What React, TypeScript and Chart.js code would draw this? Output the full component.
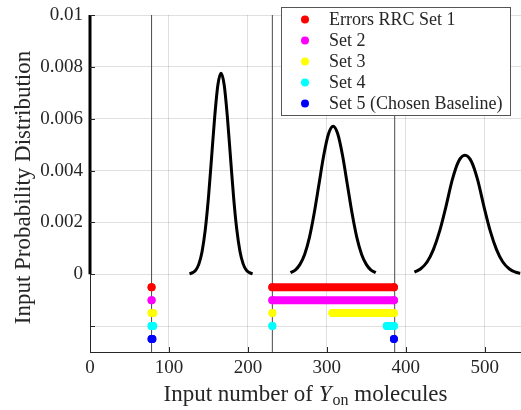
import React, { useEffect, useRef } from 'react';
import { Chart, registerables } from 'chart.js';

Chart.register(...registerables);

// ---- axes ----
const xMin = 0;
const xMax = 546;
const yMin = -0.003;
const yMax = 0.01;
const xTickValues = [0, 100, 200, 300, 400, 500];
const yTickValues = [-0.002, 0, 0.002, 0.004, 0.006, 0.008, 0.01];
const yTickLabels = ['', '0', '0.002', '0.004', '0.006', '0.008', '0.01'];

// ---- input distributions ----
const curve1X = [126, 130, 134, 138, 142, 146, 150, 154, 158, 162, 166, 170, 174, 178, 182, 186, 190, 194, 198, 202, 206];
const curve1Y = [0.00002, 0.00006, 0.00016, 0.0004, 0.00088, 0.00171, 0.00294, 0.0045, 0.00608, 0.0073, 0.00775, 0.0073, 0.00608, 0.0045, 0.00294, 0.00171, 0.00088, 0.0004, 0.00016, 0.00006, 0.00002];

const curve2X = [254, 260, 266, 272, 278, 284, 290, 296, 302, 308, 314, 320, 326, 332, 338, 344, 350, 356, 362];
const curve2Y = [0.00006, 0.00016, 0.00038, 0.00077, 0.00142, 0.00235, 0.00346, 0.00457, 0.0054, 0.00571, 0.0054, 0.00457, 0.00346, 0.00235, 0.00142, 0.00077, 0.00038, 0.00016, 0.00006];

const curve3X = [411, 419, 427, 435, 443, 451, 459, 467, 475, 483, 491, 499, 507, 515, 523, 531, 539, 545];
const curve3Y = [0.00008, 0.00021, 0.00047, 0.00095, 0.00167, 0.00262, 0.00365, 0.00436, 0.00459, 0.00436, 0.00365, 0.00262, 0.00167, 0.00095, 0.00047, 0.00021, 0.00008, 0.00004];

// left thick segment on x = 0
const axisSegmentX = [0, 0];
const axisSegmentY = [0, 0.01];

// ---- error sets ----
const seriesLabels = ['Errors RRC Set 1', 'Set 2', 'Set 3', 'Set 4', 'Set 5 (Chosen Baseline)'];
const seriesColors = ['#ff0000', '#ff00ff', '#ffff00', '#00ffff', '#0000ff'];
const seriesRowY = [-0.0005, -0.001, -0.0015, -0.002, -0.0025];
const set1Ranges = [[78, 78], [231, 385]];
const set2Ranges = [[78, 78], [231, 385]];
const set3Ranges = [[78, 80], [231, 231], [307, 385]];
const set4Ranges = [[78, 80], [231, 231], [376, 385]];
const set5Ranges = [[78, 79], [385, 385]];
const seriesRanges = [set1Ranges, set2Ranges, set3Ranges, set4Ranges, set5Ranges];

// vertical reference lines
const markerLineX = [78, 231, 386];

const FONT = "'Liberation Serif', 'Times New Roman', serif";
const TEXT = '#262626';

function rangesToPoints(ranges: number[][], y: number) {
  const pts: { x: number; y: number | null }[] = [];
  ranges.forEach(([a, b]) => {
    pts.push({ x: a, y });
    if (b !== a) pts.push({ x: b, y });
    pts.push({ x: b, y: null });
  });
  return pts;
}

function zip(xs: number[], ys: number[]) {
  return xs.map((x, i) => ({ x, y: ys[i] }));
}

const decorPlugin = {
  id: 'decor',
  afterDraw(chart: any) {
    const ctx = chart.ctx as CanvasRenderingContext2D;
    const { left, right, top, bottom } = chart.chartArea;
    const xs = chart.scales.x;
    const ys = chart.scales.y;
    ctx.save();
    // inward ticks
    ctx.strokeStyle = TEXT;
    ctx.lineWidth = 1;
    xTickValues.forEach((v) => {
      const px = Math.round(xs.getPixelForValue(v)) + 0.5;
      ctx.beginPath();
      ctx.moveTo(px, bottom);
      ctx.lineTo(px, bottom - 5);
      ctx.stroke();
    });
    yTickValues.forEach((v) => {
      const py = Math.round(ys.getPixelForValue(v)) + 0.5;
      ctx.beginPath();
      ctx.moveTo(left, py);
      ctx.lineTo(left + 5, py);
      ctx.stroke();
    });

    // y title
    ctx.fillStyle = TEXT;
    ctx.font = `23px ${FONT}`;
    ctx.textAlign = 'center';
    ctx.textBaseline = 'middle';
    ctx.save();
    ctx.translate(24, (top + bottom) / 2 + 4);
    ctx.rotate(-Math.PI / 2);
    ctx.fillText('Input Probability Distribution', 0, 0);
    ctx.restore();

    // x title with italic Y and subscript "on"
    const p1 = 'Input number of ';
    const p2 = 'Y';
    const p3 = 'on';
    const p4 = ' molecules';
    const fN = `23px ${FONT}`;
    const fI = `italic 23px ${FONT}`;
    const fS = `16px ${FONT}`;
    ctx.textAlign = 'left';
    ctx.textBaseline = 'alphabetic';
    ctx.font = fN; const w1 = ctx.measureText(p1).width; const w4 = ctx.measureText(p4).width;
    ctx.font = fI; const w2 = ctx.measureText(p2).width + 1;
    ctx.font = fS; const w3 = ctx.measureText(p3).width;
    const total = w1 + w2 + w3 + w4;
    let x0 = (left + right) / 2 - total / 2;
    const base = 401;
    ctx.font = fN; ctx.fillText(p1, x0, base); x0 += w1;
    ctx.font = fI; ctx.fillText(p2, x0, base); x0 += w2;
    ctx.font = fS; ctx.fillText(p3, x0, base + 4); x0 += w3;
    ctx.font = fN; ctx.fillText(p4, x0, base);

    // legend
    const bx = 281.5, by = 7.5, bw = 229, bh = 108;
    ctx.fillStyle = '#ffffff';
    ctx.fillRect(bx, by, bw, bh);
    ctx.strokeStyle = '#555555';
    ctx.lineWidth = 1;
    ctx.strokeRect(bx, by, bw, bh);
    ctx.font = `18px ${FONT}`;
    ctx.textBaseline = 'middle';
    ctx.textAlign = 'left';
    seriesLabels.forEach((lab, i) => {
      const cy = 19.5 + i * 21;
      ctx.fillStyle = seriesColors[i];
      ctx.beginPath();
      ctx.arc(305, cy, 4, 0, Math.PI * 2);
      ctx.fill();
      ctx.fillStyle = TEXT;
      ctx.fillText(lab, 329, cy + 1);
    });
    ctx.restore();
  },
};

export default function App() {
  const ref = useRef<HTMLCanvasElement | null>(null);
  useEffect(() => {
    if (!ref.current) return;
    const datasets: any[] = [];
    seriesLabels.forEach((lab, i) => {
      datasets.push({
        label: lab,
        data: rangesToPoints(seriesRanges[i], seriesRowY[i]),
        borderColor: seriesColors[i],
        backgroundColor: seriesColors[i],
        borderWidth: 8,
        borderCapStyle: 'round',
        pointRadius: 4,
        pointBorderWidth: 0,
        pointBackgroundColor: seriesColors[i],
        spanGaps: false,
        clip: false,
      });
    });
    [
      zip(curve1X, curve1Y),
      zip(curve2X, curve2Y),
      zip(curve3X, curve3Y),
    ].forEach((d, i) => {
      datasets.push({
        label: 'Input distribution ' + (i + 1),
        data: d,
        borderColor: '#000000',
        borderWidth: 3,
        pointRadius: 0,
        cubicInterpolationMode: 'monotone',
        clip: false,
      });
    });
    datasets.push({
      label: 'axis segment',
      data: zip(axisSegmentX, axisSegmentY),
      borderColor: '#000000',
      borderWidth: 3,
      pointRadius: 0,
      clip: false,
    });
    markerLineX.forEach((x, i) => {
      datasets.push({
        label: 'marker ' + i,
        data: [{ x, y: yMin }, { x, y: yMax }],
        borderColor: '#4a4a4a',
        borderWidth: 1,
        pointRadius: 0,
      });
    });

    const chart = new Chart(ref.current, {
      type: 'line',
      data: { datasets },
      options: {
        animation: false,
        responsive: false,
        devicePixelRatio: 1,
        layout: { autoPadding: false, padding: { top: 15, right: 0, left: 0, bottom: 0 } },
        plugins: { legend: { display: false }, tooltip: { enabled: false } },
        scales: {
          x: {
            type: 'linear',
            min: xMin,
            max: xMax,
            afterBuildTicks: (s: any) => { s.ticks = xTickValues.map((v) => ({ value: v })); },
            afterFit: (s: any) => { s.height = 58; s.paddingLeft = 0; s.paddingRight = 0; },
            ticks: { color: TEXT, font: { family: FONT, size: 19 }, padding: 5, maxRotation: 0, callback: (v: any) => String(v) },
            grid: { color: 'rgba(38,38,38,0.15)', drawTicks: false },
            border: { color: TEXT, width: 1 },
          },
          y: {
            type: 'linear',
            min: yMin,
            max: yMax,
            afterBuildTicks: (s: any) => { s.ticks = yTickValues.map((v) => ({ value: v })); },
            afterFit: (s: any) => { s.width = 90; s.paddingTop = 0; s.paddingBottom = 0; },
            ticks: { color: TEXT, font: { family: FONT, size: 19 }, padding: 7, callback: (_v: any, i: number) => yTickLabels[i] },
            grid: { color: 'rgba(38,38,38,0.15)', drawTicks: false },
            border: { color: TEXT, width: 1 },
          },
        },
      },
      plugins: [decorPlugin],
    });
    return () => chart.destroy();
  }, []);
  return (
    <div style={{ position: 'absolute', left: 0, top: 0, width: 521, height: 410, background: '#fff' }}>
      <canvas ref={ref} width={521} height={410} style={{ width: 521, height: 410, display: 'block' }} />
    </div>
  );
}
